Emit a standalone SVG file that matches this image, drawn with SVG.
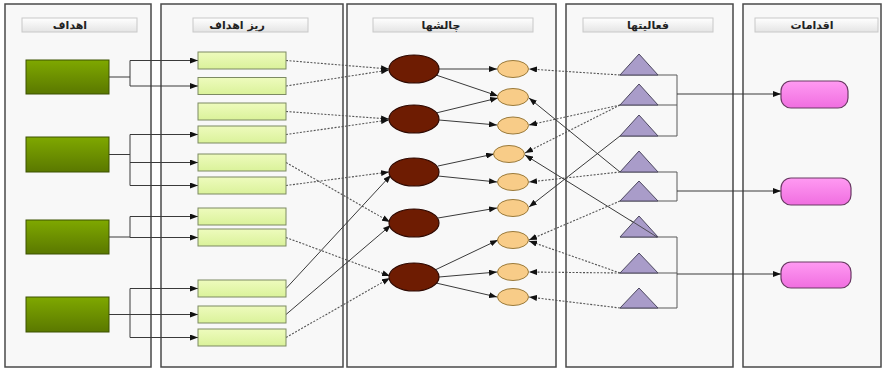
<svg xmlns="http://www.w3.org/2000/svg" width="884" height="369" viewBox="0 0 884 369">
<style>
.panel{fill:#f8f8f8;stroke:#4a4a4a;stroke-width:1.5}
.hdr{fill:url(#gH);stroke:#c8c8c8;stroke-width:1}
.ht{font-family:"DejaVu Sans",sans-serif;font-size:11px;font-weight:bold;fill:#222;text-anchor:middle}
.goal{fill:url(#gG);stroke:#3d5200;stroke-width:1}
.sub{fill:url(#gS);stroke:#7c8a62;stroke-width:1}
.ch{fill:#6e1c02;stroke:#2e0800;stroke-width:1.2}
.or{fill:#f8cc88;stroke:#9a7a3a;stroke-width:1}
.tri{fill:#a99cc9;stroke:#4d4860;stroke-width:1}
.act{fill:url(#gP);stroke:#6a3a64;stroke-width:1.2}
.s{fill:none;stroke:#3a3a3a;stroke-width:1}
.sa{fill:none;stroke:#3a3a3a;stroke-width:1;marker-end:url(#ar)}
.da{fill:none;stroke:#555;stroke-width:1.1;stroke-dasharray:2 1.5;marker-end:url(#ar)}
.br{fill:none;stroke:#5a5a5a;stroke-width:1}
</style>
<defs>
<marker id="ar" viewBox="0 0 8 6" refX="8" refY="3" markerWidth="8" markerHeight="6" markerUnits="userSpaceOnUse" orient="auto">
<path d="M0,0 L8,3 L0,6 Z" fill="#111"/>
</marker>
<linearGradient id="gH" x1="0" y1="0" x2="0" y2="1"><stop offset="0" stop-color="#ffffff"/><stop offset="1" stop-color="#e4e4e4"/></linearGradient>
<linearGradient id="gG" x1="0" y1="0" x2="0" y2="1"><stop offset="0" stop-color="#7fa800"/><stop offset="1" stop-color="#5a7800"/></linearGradient>
<linearGradient id="gS" x1="0" y1="0" x2="0" y2="1"><stop offset="0" stop-color="#eefbbd"/><stop offset="1" stop-color="#daf29a"/></linearGradient>
<linearGradient id="gP" x1="0" y1="0" x2="0" y2="1"><stop offset="0" stop-color="#ff9af2"/><stop offset="1" stop-color="#f06ee0"/></linearGradient>
</defs>
<rect width="884" height="369" fill="#ffffff"/>
<g id="panels">
<rect class="panel" x="5" y="4" width="146" height="363"/>
<rect class="panel" x="161" y="4" width="182" height="363"/>
<rect class="panel" x="347" y="4" width="209" height="363"/>
<rect class="panel" x="566" y="4" width="167" height="363"/>
<rect class="panel" x="743" y="4" width="138" height="363"/>
</g>
<g id="headers">
<rect class="hdr" x="22" y="18" width="115" height="14"/>
<text class="ht" x="70" y="29">اهداف</text>
<rect class="hdr" x="193" y="18" width="115" height="14"/>
<text class="ht" x="237" y="29">ریز اهداف</text>
<rect class="hdr" x="373" y="18" width="160" height="14"/>
<text class="ht" x="441" y="29">چالشها</text>
<rect class="hdr" x="583" y="18" width="130" height="14"/>
<text class="ht" x="648" y="29">فعالیتها</text>
<rect class="hdr" x="755" y="18" width="123" height="14"/>
<text class="ht" x="812" y="29">اقدامات</text>
</g>
<g id="connectors">
<path class="s" d="M109,77 H130 M130,60.5 V86 M130,134.5 V185.5 M109,154.5 H130 M109,237 H130 M130,216.5 V237.5 M109,314.5 H130 M130,288.5 V337.5"/>
<path class="sa" d="M130,60.5 H198"/>
<path class="sa" d="M130,86 H198"/>
<path class="sa" d="M130,134.5 H198"/>
<path class="sa" d="M130,162.5 H198"/>
<path class="sa" d="M130,185.5 H198"/>
<path class="sa" d="M130,216.5 H198"/>
<path class="sa" d="M130,237.5 H198"/>
<path class="sa" d="M130,288.5 H198"/>
<path class="sa" d="M130,314.5 H198"/>
<path class="sa" d="M130,337.5 H198"/>
<path class="da" d="M286,60.5 L389,69"/>
<path class="da" d="M286,86 L389,70"/>
<path class="da" d="M286,111.5 L389,119"/>
<path class="da" d="M286,134.5 L389,120"/>
<path class="da" d="M286,162.5 L390,222"/>
<path class="da" d="M286,185.5 L389,172"/>
<path class="da" d="M286,237.5 L390,276"/>
<path class="sa" d="M286,288.5 L391,175"/>
<path class="sa" d="M286,314.5 L391,225"/>
<path class="da" d="M286,337.5 L390,278"/>
<path class="sa" d="M439,69 L497,69"/>
<path class="sa" d="M436,75 L498,96"/>
<path class="sa" d="M436,113 L498,98"/>
<path class="sa" d="M439,120 L497,125"/>
<path class="sa" d="M438,166 L494,154"/>
<path class="sa" d="M438,176 L497,182"/>
<path class="sa" d="M438,218 L497,208"/>
<path class="sa" d="M435,270 L498,240"/>
<path class="sa" d="M439,277 L497,272"/>
<path class="sa" d="M436,283 L497,297"/>
<path class="da" d="M620,75 L529,69"/>
<path class="da" d="M620,105 L529,125"/>
<path class="da" d="M620,105 L525,153"/>
<path class="sa" d="M620,136 L529,207"/>
<path class="sa" d="M620,172 L529,98"/>
<path class="da" d="M620,172 L529,182"/>
<path class="sa" d="M657,237 L525,155"/>
<path class="da" d="M620,201 L529,240"/>
<path class="da" d="M620,273 L529,241"/>
<path class="da" d="M620,273 L529,272"/>
<path class="da" d="M620,308 L529,297"/>
<path class="br" d="M620,75 H677 V136 H620 M620,105 H677"/>
<path class="br" d="M620,172 H677 V201 H620"/>
<path class="br" d="M620,237 H677 V308 H620 M620,273 H677"/>
<path class="sa" d="M677,94 H781"/>
<path class="sa" d="M677,191 H781"/>
<path class="sa" d="M677,274 H781"/>
</g>
<g id="goals">
<rect id="g1" class="goal" x="26" y="60" width="83" height="34"/>
<rect id="g2" class="goal" x="26" y="137" width="83" height="35"/>
<rect id="g3" class="goal" x="26" y="220" width="83" height="34"/>
<rect id="g4" class="goal" x="26" y="297" width="83" height="35"/>
</g>
<g id="subgoals">
<rect id="s1" class="sub" x="198" y="52" width="88" height="17"/>
<rect id="s2" class="sub" x="198" y="77.5" width="88" height="17"/>
<rect id="s3" class="sub" x="198" y="103" width="88" height="17"/>
<rect id="s4" class="sub" x="198" y="126" width="88" height="17"/>
<rect id="s5" class="sub" x="198" y="154" width="88" height="17"/>
<rect id="s6" class="sub" x="198" y="177" width="88" height="17"/>
<rect id="s7" class="sub" x="198" y="208" width="88" height="17"/>
<rect id="s8" class="sub" x="198" y="229" width="88" height="17"/>
<rect id="s9" class="sub" x="198" y="280" width="88" height="17"/>
<rect id="s10" class="sub" x="198" y="306" width="88" height="17"/>
<rect id="s11" class="sub" x="198" y="329" width="88" height="17"/>
</g>
<g id="challenges">
<ellipse id="c1" class="ch" cx="414" cy="69" rx="25" ry="14"/>
<ellipse id="c2" class="ch" cx="414" cy="119" rx="25" ry="14"/>
<ellipse id="c3" class="ch" cx="414" cy="172" rx="25" ry="14"/>
<ellipse id="c4" class="ch" cx="414" cy="223" rx="25" ry="14"/>
<ellipse id="c5" class="ch" cx="414" cy="277" rx="25" ry="14"/>
</g>
<g id="subchallenges">
<ellipse id="o1" class="or" cx="513" cy="69" rx="15.5" ry="8.5"/>
<ellipse id="o2" class="or" cx="513" cy="97" rx="15.5" ry="8.5"/>
<ellipse id="o3" class="or" cx="513" cy="125.5" rx="15.5" ry="8.5"/>
<ellipse id="o4" class="or" cx="509" cy="154" rx="15.5" ry="8.5"/>
<ellipse id="o5" class="or" cx="513" cy="182" rx="15.5" ry="8.5"/>
<ellipse id="o6" class="or" cx="513" cy="208" rx="15.5" ry="8.5"/>
<ellipse id="o7" class="or" cx="513" cy="240" rx="15.5" ry="8.5"/>
<ellipse id="o8" class="or" cx="513" cy="272" rx="15.5" ry="8.5"/>
<ellipse id="o9" class="or" cx="513" cy="297" rx="15.5" ry="8.5"/>
</g>
<g id="activities">
<polygon id="t1" class="tri" points="620,75 639,54 658,75"/>
<polygon id="t2" class="tri" points="620,105 639,84 658,105"/>
<polygon id="t3" class="tri" points="620,136 639,115 658,136"/>
<polygon id="t4" class="tri" points="620,172 639,151 658,172"/>
<polygon id="t5" class="tri" points="620,201 639,181 658,201"/>
<polygon id="t6" class="tri" points="620,237 639,216 658,237"/>
<polygon id="t7" class="tri" points="620,273 639,253 658,273"/>
<polygon id="t8" class="tri" points="620,308 639,288 658,308"/>
</g>
<path class="s" d="M657,237 L630,220" stroke-opacity="0.8"/>
<g id="actions">
<rect id="a1" class="act" x="781" y="81" width="67" height="27" rx="10"/>
<rect id="a2" class="act" x="781" y="178" width="70" height="27" rx="10"/>
<rect id="a3" class="act" x="781" y="262" width="70" height="26" rx="10"/>
</g>
</svg>
